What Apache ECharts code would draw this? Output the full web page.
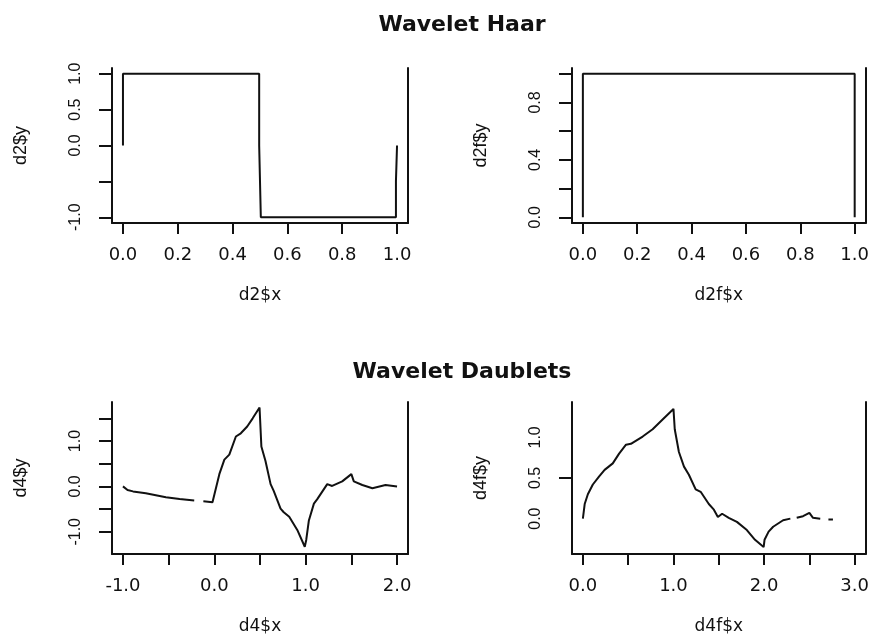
<!DOCTYPE html>
<html>
<head>
<meta charset="utf-8">
<script src="https://cdn.jsdelivr.net/npm/echarts@6/dist/echarts.min.js"></script>
<style>
  html, body { margin: 0; padding: 0; background: #fff; }
  #main { width: 872px; height: 636px; }
</style>
</head>
<body>
<div id="main"></div>
<script>
// panel titles
var titles = ['Wavelet Haar', 'Wavelet Daublets'];

// Haar wavelet (d2)
var d2X = [0, 0, 0.497, 0.497, 0.503, 0.503, 0.996, 0.996, 1.0, 1.0];
var d2Y = [0, 1, 1, 0, 0, -1, -1, -0.5, -0.5, 0];

// Haar scaling function (d2f)
var d2fX = [0, 0, 1, 1];
var d2fY = [0, 1, 1, 0];

// Daubechies D4 wavelet (d4), null = gap in the trace
var d4X = [-1.0, -0.95, -0.89, -0.75, -0.53, -0.38, -0.22, -0.17, -0.12, -0.02, 0.0, 0.055, 0.11, 0.164, 0.236,
  0.29, 0.36, 0.42, 0.495, 0.515, 0.525, 0.56, 0.616, 0.65, 0.725, 0.76, 0.82, 0.908, 0.99, 1.006, 1.035,
  1.09, 1.127, 1.236, 1.29, 1.40, 1.50, 1.527, 1.62, 1.73, 1.874, 2.0];
var d4Y = [0.0, -0.08, -0.11, -0.15, -0.24, -0.28, -0.31, null, -0.33, -0.35, -0.35, 0.27, 0.59, 0.70, 1.10,
  1.17, 1.32, 1.50, 1.74, 0.88, 0.85, 0.56, 0.05, -0.10, -0.49, -0.57, -0.67, -0.96, -1.33, -1.18, -0.75,
  -0.38, -0.28, 0.05, 0.01, 0.11, 0.27, 0.11, 0.03, -0.04, 0.03, 0.0];

// Daubechies D4 scaling function (d4f)
var d4fX = [0, 0.02, 0.055, 0.11, 0.18, 0.24, 0.33, 0.40, 0.476, 0.53, 0.66, 0.77, 0.88, 1.0, 1.014, 1.06,
  1.116, 1.17, 1.245, 1.30, 1.39, 1.446, 1.49, 1.537, 1.61, 1.70, 1.81, 1.90, 1.995, 2.005, 2.05, 2.10,
  2.21, 2.29, 2.32, 2.36, 2.43, 2.50, 2.54, 2.62, 2.66, 2.71, 2.76];
var d4fY = [0, 0.18, 0.30, 0.42, 0.52, 0.60, 0.68, 0.80, 0.91, 0.92, 1.01, 1.10, 1.22, 1.35, 1.10, 0.82,
  0.64, 0.54, 0.36, 0.33, 0.18, 0.11, 0.02, 0.06, 0.01, -0.04, -0.14, -0.26, -0.35, -0.26, -0.16, -0.10,
  -0.02, 0.0, null, 0.01, 0.03, 0.07, 0.01, 0.0, null, -0.01, -0.01];

// axis names
var xNames = ['d2$x', 'd2f$x', 'd4$x', 'd4f$x'];
var yNames = ['d2$y', 'd2f$y', 'd4$y', 'd4f$y'];

// tick positions and labelled ticks
var xTicks = [
  [0, 0.2, 0.4, 0.6, 0.8, 1.0],
  [0, 0.2, 0.4, 0.6, 0.8, 1.0],
  [-1.0, -0.5, 0, 0.5, 1.0, 1.5, 2.0],
  [0, 0.5, 1.0, 1.5, 2.0, 2.5, 3.0]
];
var xLabels = [
  [0, 0.2, 0.4, 0.6, 0.8, 1.0],
  [0, 0.2, 0.4, 0.6, 0.8, 1.0],
  [-1.0, 0, 1.0, 2.0],
  [0, 1.0, 2.0, 3.0]
];
var yTicks = [
  [-1.0, -0.5, 0, 0.5, 1.0],
  [0, 0.2, 0.4, 0.6, 0.8, 1.0],
  [-1.0, -0.5, 0, 0.5, 1.0, 1.5],
  [0.5]
];
var yLabels = [
  [-1.0, 0, 0.5, 1.0],
  [0, 0.4, 0.8],
  [-1.0, 0, 1.0],
  [0, 0.5, 1.0]
];

// axis ranges (R style 4% padding)
var xRanges = [[-0.04, 1.04], [-0.04, 1.04], [-1.12, 2.12], [-0.12, 3.12]];
var yRanges = [[-1.08, 1.08], [-0.04, 1.04], [-1.49, 1.86], [-0.435, 1.435]];

function toPairs(xs, ys) {
  var out = [];
  for (var i = 0; i < xs.length; i++) {
    out.push([xs[i], ys[i] === null ? '-' : ys[i]]);
  }
  return out;
}

var seriesData = [toPairs(d2X, d2Y), toPairs(d2fX, d2fY), toPairs(d4X, d4Y), toPairs(d4fX, d4fY)];

var grids = [
  { left: 112, top: 68, width: 296, height: 155 },
  { left: 572, top: 68, width: 295, height: 155 },
  { left: 112, top: 402, width: 296, height: 155 },
  { left: 572, top: 402, width: 295, height: 155 }
];

var ink = '#111';
var fmt = function (v) { return Number(v).toFixed(1); };

var xAxes = [], yAxes = [], series = [];
for (var i = 0; i < 4; i++) {
  xAxes.push({
    type: 'value', gridIndex: i,
    min: xRanges[i][0], max: xRanges[i][1],
    name: xNames[i], nameLocation: 'middle', nameGap: 64,
    nameTextStyle: { fontFamily: 'DejaVu Sans', fontSize: 17, color: ink },
    axisLine: { show: true, onZero: false, lineStyle: { color: ink, width: 2 } },
    axisTick: { show: true, length: 11, customValues: xTicks[i], lineStyle: { color: ink, width: 2 } },
    axisLabel: { customValues: xLabels[i], formatter: fmt, margin: 23,
      fontFamily: 'DejaVu Sans', fontSize: 18, color: ink },
    splitLine: { show: false }
  });
  yAxes.push({
    type: 'value', gridIndex: i, position: 'left',
    min: yRanges[i][0], max: yRanges[i][1],
    name: yNames[i], nameLocation: 'middle', nameGap: 82, nameRotate: 90,
    nameTextStyle: { fontFamily: 'Liberation Sans Narrow, Liberation Sans', fontSize: 18, color: ink },
    axisLine: { show: true, onZero: false, lineStyle: { color: ink, width: 2 } },
    axisTick: { show: true, length: 13, customValues: yTicks[i], lineStyle: { color: ink, width: 2 } },
    axisLabel: { customValues: yLabels[i], formatter: fmt, rotate: 90, margin: 28,
      fontFamily: 'Liberation Sans Narrow, Liberation Sans', fontSize: 16, color: ink },
    splitLine: { show: false }
  });
  // right side of the open box
  yAxes.push({
    type: 'value', gridIndex: i, position: 'right',
    min: yRanges[i][0], max: yRanges[i][1],
    axisLine: { show: true, onZero: false, lineStyle: { color: ink, width: 2 } },
    axisTick: { show: false }, axisLabel: { show: false }, splitLine: { show: false }
  });
  series.push({
    type: 'line', xAxisIndex: i, yAxisIndex: i * 2,
    data: seriesData[i], showSymbol: false, connectNulls: false,
    lineStyle: { color: ink, width: 2 }, animation: false
  });
}

var chart = echarts.init(document.getElementById('main'));
chart.setOption({
  backgroundColor: '#fff',
  animation: false,
  title: [
    { text: titles[0], left: 457, top: 9, textAlign: 'center',
      textStyle: { fontFamily: 'DejaVu Sans', fontWeight: 'bold', fontSize: 22, color: ink } },
    { text: titles[1], left: 457, top: 356, textAlign: 'center',
      textStyle: { fontFamily: 'DejaVu Sans', fontWeight: 'bold', fontSize: 22, color: ink } }
  ],
  grid: grids,
  xAxis: xAxes,
  yAxis: yAxes,
  series: series
});
</script>
</body>
</html>
